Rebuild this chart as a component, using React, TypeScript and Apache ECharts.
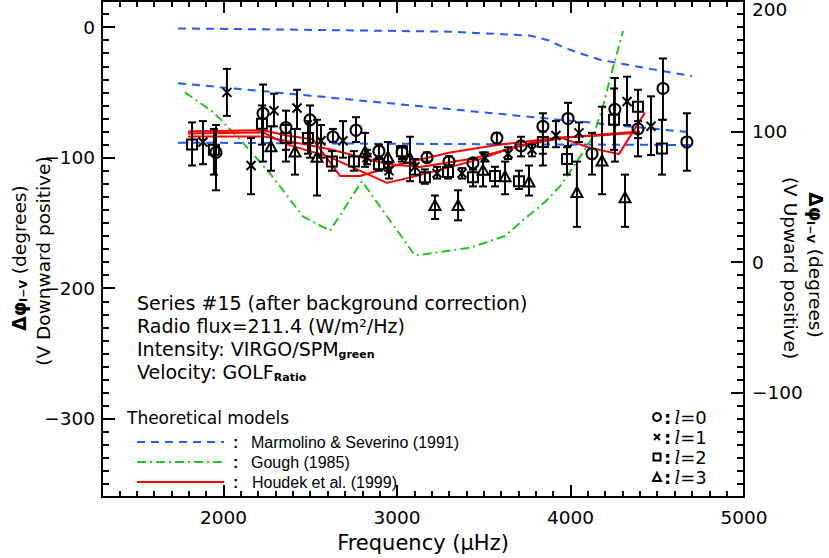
import React, { useEffect, useRef } from 'react';
import * as echarts from 'echarts';

// Tick labels
const xMajorTicks = [2000, 3000, 4000, 5000];
const leftTicks = [0, -100, -200, -300];
const rightTicks = [200, 100, 0, -100];

// Observed phase differences: [frequency (µHz), phase (deg), upper error end, lower error end]
const l0Points = [
  [1957, -96, -75, -125], [2228, -66, -44, -103], [2360, -77, -64, -103], [2499, -71, -60, -100],
  [2631, -84, -78, -88], [2764, -79, -69, -88], [2896, -95, -90, -100], [3029, -96, -92, -103],
  [3173, -100, -96, -103], [3300, -103, -99, -106], [3438, -104, -101, -109], [3576, -85, -81, -89],
  [3715, -91, -84, -99], [3841, -76, -66, -106], [3986, -70, -58, -91], [4124, -97, -81, -113],
  [4256, -63, -39, -103], [4389, -78, -72, -85], [4533, -47, -24, -71], [4671, -88, -66, -110],
];
const l1Points = [
  [1882, -88, -72, -105], [2020, -50, -32, -68], [2159, -106, -85, -128], [2291, -64, -51, -76],
  [2424, -62, -48, -78], [2562, -87, -75, -100], [2689, -87, -72, -100], [2827, -100, -94, -105],
  [2954, -110, -104, -116], [3104, -107, -101, -113], [3231, -112, -107, -116], [3375, -112, -108, -116],
  [3507, -100, -96, -103], [3640, -97, -92, -101], [3778, -94, -90, -99], [3916, -83, -72, -92],
  [4049, -81, -73, -88], [4326, -57, -38, -75], [4464, -76, -53, -98],
];
const l2Points = [
  [1819, -90, -73, -106], [1945, -94, -78, -113], [2222, -74, -60, -90], [2360, -85, -75, -94],
  [2487, -85, -72, -97], [2625, -103, -95, -110], [2752, -103, -95, -110], [2896, -105, -100, -110],
  [3029, -95, -91, -101], [3161, -115, -109, -120], [3294, -111, -106, -116], [3438, -115, -109, -122],
  [3565, -114, -107, -122], [3703, -118, -110, -124], [3841, -88, -80, -97], [3980, -101, -92, -113],
  [4251, -71, -47, -94], [4389, -61, -48, -99], [4527, -93, -71, -113],
];
const l3Points = [
  [2274, -92, -76, -110], [2412, -96, -78, -113], [2539, -100, -71, -129], [2816, -96, -81, -107],
  [2948, -100, -88, -110], [3075, -101, -84, -118], [3219, -137, -129, -147], [3352, -137, -125, -148],
  [3496, -110, -96, -122], [3623, -115, -103, -128], [3761, -119, -106, -129], [4037, -127, -103, -153],
  [4182, -103, -61, -128], [4314, -131, -113, -153],
];

// Theoretical models
const marmolinoTop = [[1738, -1], [2441, -2], [3305, -3.5], [3767, -6.5], [3870, -10], [3968, -16], [4055, -20], [4170, -25], [4458, -32], [4700, -37.5]];
const marmolinoMid = [[1738, -43], [2500, -52.5], [3300, -62.8], [4000, -71.7], [4700, -80.7]];
const marmolinoLow = [[1738, -88.5], [3200, -89.5], [4700, -90.3]];
const gough = [[1778, -50], [1940, -65], [2095, -86], [2268, -112], [2458, -145], [2614, -156], [2798, -118], [3104, -175], [3421, -169], [3622, -160], [3726, -148], [3853, -134], [3939, -122], [4037, -103], [4130, -84], [4187, -61], [4245, -31], [4303, -3]];
const houdek1 = [[1796, -80], [2228, -79], [2366, -83], [2516, -86], [2672, -114], [2787, -114], [3017, -105], [3306, -96], [3594, -90], [3939, -84.5], [4170, -83], [4400, -80.7]];
const houdek2 = [[1796, -81.4], [2228, -80.7], [2366, -89.8], [2614, -99.6], [2942, -119.3], [3092, -114.7], [3478, -101.1], [3669, -92], [3853, -86], [3939, -84.5], [4101, -92], [4279, -97.3], [4429, -65.5]];
const houdek3 = [[1796, -83.7], [2228, -83.7], [2614, -93.6], [2942, -104.9], [3133, -107.2], [3421, -101.1], [3709, -91.3], [3939, -85.2], [4170, -82.2], [4400, -80]];

const FONT = 'DejaVu Sans';
const HELV = 'Liberation Sans';
const BLUE = '#1f5bff';
const GREEN = '#1fc81f';
const RED = '#ff0000';

const minus = (v: number) => String(v).replace('-', '\u2212');

function errorBarSeries(name: string, data: number[][], kind: string) {
  return {
    type: 'custom',
    name,
    xAxisIndex: 0,
    yAxisIndex: 0,
    z: 5,
    data,
    renderItem: (params: any, api: any) => {
      const p = api.coord([api.value(0), api.value(1)]);
      const hi = api.coord([api.value(0), api.value(2)]);
      const lo = api.coord([api.value(0), api.value(3)]);
      const st = { stroke: '#000', lineWidth: 2, fill: 'none' };
      const cap = 4;
      const x = p[0];
      const y = p[1];
      const children: any[] = [
        { type: 'line', shape: { x1: x, y1: hi[1], x2: x, y2: lo[1] }, style: st },
        { type: 'line', shape: { x1: x - cap, y1: hi[1], x2: x + cap, y2: hi[1] }, style: st },
        { type: 'line', shape: { x1: x - cap, y1: lo[1], x2: x + cap, y2: lo[1] }, style: st },
      ];
      if (kind === 'circle') {
        children.push({ type: 'circle', shape: { cx: x, cy: y, r: 5.5 }, style: { stroke: '#000', lineWidth: 2, fill: 'none' } });
      } else if (kind === 'cross') {
        children.push({ type: 'line', shape: { x1: x - 4.5, y1: y - 4.5, x2: x + 4.5, y2: y + 4.5 }, style: st });
        children.push({ type: 'line', shape: { x1: x - 4.5, y1: y + 4.5, x2: x + 4.5, y2: y - 4.5 }, style: st });
      } else if (kind === 'square') {
        children.push({ type: 'rect', shape: { x: x - 5, y: y - 5, width: 10, height: 10 }, style: { stroke: '#000', lineWidth: 2, fill: 'none' } });
      } else {
        children.push({ type: 'polygon', shape: { points: [[x, y - 6], [x - 5.5, y + 4], [x + 5.5, y + 4]] }, style: { stroke: '#000', lineWidth: 2, fill: 'none' } });
      }
      return { type: 'group', children };
    },
  };
}

function modelLine(name: string, data: number[][], color: string, type: any) {
  return {
    type: 'line',
    name,
    xAxisIndex: 0,
    yAxisIndex: 0,
    data,
    showSymbol: false,
    symbol: 'none',
    silent: true,
    z: 4,
    lineStyle: { color, width: 2, type },
  };
}

const axisBase = {
  type: 'value',
  splitLine: { show: false },
};

const titleRich = {
  b: { fontSize: 18.5, fontWeight: 'bold', fontFamily: FONT, fill: '#000' },
  s: { fontSize: 11, fontWeight: 'bold', fontFamily: FONT, fill: '#000', padding: [9, 0, 0, 0] },
  n: { fontSize: 18.5, fontFamily: FONT, fill: '#000' },
};

const legendRich = {
  c: { fontSize: 18, lineHeight: 18, fontFamily: FONT, fill: '#000', fontWeight: 'bold' },
  i: { fontSize: 18, lineHeight: 18, fontFamily: 'DejaVu Serif', fontStyle: 'italic', fill: '#000' },
  n: { fontSize: 18, lineHeight: 18, fontFamily: FONT, fill: '#000' },
};

export default function App() {
  const ref = useRef<HTMLDivElement>(null);
  useEffect(() => {
    const chart = echarts.init(ref.current!, null, { renderer: 'svg' });
    const lineSt = { color: '#000', width: 2 };
    const labelSt = { color: '#000', fontSize: 18.5, fontFamily: FONT };
    const option: any = {
      animation: false,
      backgroundColor: '#fff',
      grid: { left: 102, right: 85, top: 1, bottom: 56, containLabel: false },
      xAxis: [
        {
          ...axisBase, position: 'bottom', min: 1300, max: 5000,
          axisLine: { show: true, onZero: false, lineStyle: lineSt },
          axisTick: { show: true, inside: true, length: 12, customValues: xMajorTicks, lineStyle: lineSt },
          axisLabel: { ...labelSt, customValues: xMajorTicks, margin: 11, formatter: (v: number) => String(v) },
          name: 'Frequency (\u03bcHz)', nameLocation: 'middle', nameGap: 31,
          nameTextStyle: { color: '#000', fontSize: 21, fontFamily: FONT },
        },
        {
          ...axisBase, position: 'bottom', min: 1300, max: 5000, interval: 100,
          axisLine: { show: false, onZero: false },
          axisTick: { show: true, inside: true, length: 6, lineStyle: lineSt },
          axisLabel: { show: false },
        },
        {
          ...axisBase, position: 'top', min: 1300, max: 5000,
          axisLine: { show: true, onZero: false, lineStyle: lineSt },
          axisTick: { show: true, inside: true, length: 12, customValues: xMajorTicks, lineStyle: lineSt },
          axisLabel: { show: false },
        },
        {
          ...axisBase, position: 'top', min: 1300, max: 5000, interval: 100,
          axisLine: { show: false, onZero: false },
          axisTick: { show: true, inside: true, length: 6, lineStyle: lineSt },
          axisLabel: { show: false },
        },
      ],
      yAxis: [
        {
          ...axisBase, position: 'left', min: -360, max: 20,
          axisLine: { show: true, onZero: false, lineStyle: lineSt },
          axisTick: { show: true, inside: true, length: 13, customValues: leftTicks, lineStyle: lineSt },
          axisLabel: { ...labelSt, customValues: leftTicks, margin: 7, formatter: (v: number) => minus(v) },
        },
        {
          ...axisBase, position: 'left', min: -360, max: 20, interval: 10,
          axisLine: { show: false, onZero: false },
          axisTick: { show: true, inside: true, length: 7, lineStyle: lineSt },
          axisLabel: { show: false },
        },
        {
          ...axisBase, position: 'right', min: -180, max: 200,
          axisLine: { show: true, onZero: false, lineStyle: lineSt },
          axisTick: { show: true, inside: true, length: 13, customValues: rightTicks, lineStyle: lineSt },
          axisLabel: {
            ...labelSt, customValues: rightTicks.slice(1), margin: 8,
            formatter: (v: number) => minus(v),
          },
        },
        {
          ...axisBase, position: 'right', min: -180, max: 200, interval: 10,
          axisLine: { show: false, onZero: false },
          axisTick: { show: true, inside: true, length: 7, lineStyle: lineSt },
          axisLabel: { show: false },
        },
      ],
      series: [
        modelLine('Marmolino & Severino (1991)', marmolinoTop, BLUE, [8, 6]),
        modelLine('Marmolino & Severino (1991) b', marmolinoMid, BLUE, [8, 6]),
        modelLine('Marmolino & Severino (1991) c', marmolinoLow, BLUE, [8, 6]),
        modelLine('Gough (1985)', gough, GREEN, [9, 4, 2, 4]),
        errorBarSeries('l=0', l0Points, 'circle'),
        errorBarSeries('l=1', l1Points, 'cross'),
        errorBarSeries('l=2', l2Points, 'square'),
        errorBarSeries('l=3', l3Points, 'triangle'),
        modelLine('Houdek et al. (1999)', houdek1, RED, 'solid'),
        modelLine('Houdek et al. (1999) b', houdek2, RED, 'solid'),
        modelLine('Houdek et al. (1999) c', houdek3, RED, 'solid'),
      ],
      graphic: [
        // top label of the right axis (kept inside the page)
        { type: 'text', x: 752, y: 1, style: { text: String(rightTicks[0]), verticalAlign: 'top', lineHeight: 17, fontSize: 18.5, fontFamily: FONT, fill: '#000' } },
        // Left axis title
        {
          type: 'text', x: 19, y: 258, rotation: Math.PI / 2,
          style: { text: '{b|\u0394\u03c6}{s|I\u2212V}{n| (degrees)}', align: 'center', verticalAlign: 'middle', rich: titleRich },
        },
        {
          type: 'text', x: 43, y: 261, rotation: Math.PI / 2,
          style: { text: '(V Downward positive)', align: 'center', verticalAlign: 'middle', fontSize: 18.5, fontFamily: FONT, fill: '#000' },
        },
        // Right axis title
        {
          type: 'text', x: 815, y: 265, rotation: -Math.PI / 2,
          style: { text: '{b|\u0394\u03c6}{s|I\u2212V}{n| (degrees)}', align: 'center', verticalAlign: 'middle', rich: titleRich },
        },
        {
          type: 'text', x: 790, y: 268, rotation: -Math.PI / 2,
          style: { text: '(V Upward positive)', align: 'center', verticalAlign: 'middle', fontSize: 18.5, fontFamily: FONT, fill: '#000' },
        },
        // Annotation block
        { type: 'text', x: 137, y: 303, style: { text: 'Series #15 (after background correction)', verticalAlign: 'middle', fontSize: 19, fontFamily: FONT, fill: '#000' } },
        { type: 'text', x: 137, y: 326, style: { text: 'Radio flux=211.4 (W/m\u00b2/Hz)', verticalAlign: 'middle', fontSize: 19, fontFamily: FONT, fill: '#000' } },
        {
          type: 'text', x: 137, y: 349,
          style: {
            text: '{n|Intensity: VIRGO/SPM}{s|green}', verticalAlign: 'middle',
            rich: {
              n: { fontSize: 19, fontFamily: FONT, fill: '#000' },
              s: { fontSize: 11, fontWeight: 'bold', fontFamily: FONT, fill: '#000', padding: [10, 0, 0, 0] },
            },
          },
        },
        {
          type: 'text', x: 137, y: 372,
          style: {
            text: '{n|Velocity: GOLF}{s|Ratio}', verticalAlign: 'middle',
            rich: {
              n: { fontSize: 19, fontFamily: FONT, fill: '#000' },
              s: { fontSize: 11, fontWeight: 'bold', fontFamily: FONT, fill: '#000', padding: [10, 0, 0, 0] },
            },
          },
        },
        // Theoretical models legend
        { type: 'text', x: 127, y: 418, style: { text: 'Theoretical models', verticalAlign: 'middle', fontSize: 17, fontFamily: FONT, fill: '#000' } },
        { type: 'line', shape: { x1: 137, y1: 442, x2: 224, y2: 442 }, style: { stroke: BLUE, lineWidth: 2, lineDash: [8, 6] } },
        { type: 'line', shape: { x1: 137, y1: 462, x2: 224, y2: 462 }, style: { stroke: GREEN, lineWidth: 2, lineDash: [9, 4, 2, 4] } },
        { type: 'line', shape: { x1: 137, y1: 482, x2: 224, y2: 482 }, style: { stroke: RED, lineWidth: 2 } },
        { type: 'text', x: 233, y: 442, style: { text: ':', verticalAlign: 'middle', fontSize: 16, fontFamily: HELV, fontWeight: 'bold', fill: '#000' } },
        { type: 'text', x: 233, y: 462, style: { text: ':', verticalAlign: 'middle', fontSize: 16, fontFamily: HELV, fontWeight: 'bold', fill: '#000' } },
        { type: 'text', x: 233, y: 482, style: { text: ':', verticalAlign: 'middle', fontSize: 16, fontFamily: HELV, fontWeight: 'bold', fill: '#000' } },
        { type: 'text', x: 251, y: 442, style: { text: 'Marmolino & Severino (1991)', verticalAlign: 'middle', fontSize: 16, fontFamily: HELV, fill: '#000' } },
        { type: 'text', x: 251, y: 462, style: { text: 'Gough (1985)', verticalAlign: 'middle', fontSize: 16, fontFamily: HELV, fill: '#000' } },
        { type: 'text', x: 252, y: 482, style: { text: 'Houdek et al. (1999)', verticalAlign: 'middle', fontSize: 16, fontFamily: HELV, fill: '#000' } },
        // Degree legend
        { type: 'circle', shape: { cx: 657, cy: 417, r: 4 }, style: { stroke: '#000', lineWidth: 2, fill: 'none' } },
        { type: 'line', shape: { x1: 654, y1: 434, x2: 660, y2: 440 }, style: { stroke: '#000', lineWidth: 2 } },
        { type: 'line', shape: { x1: 654, y1: 440, x2: 660, y2: 434 }, style: { stroke: '#000', lineWidth: 2 } },
        { type: 'rect', shape: { x: 653.5, y: 453.5, width: 7, height: 7 }, style: { stroke: '#000', lineWidth: 2, fill: 'none' } },
        { type: 'polygon', shape: { points: [[657, 473], [653, 481], [661, 481]] }, style: { stroke: '#000', lineWidth: 2, fill: 'none' } },
        ...['0', '1', '2', '3'].map((d, i) => ({
          type: 'text', x: 664, y: 417 + i * 20.3,
          style: { text: `{c|:} {i|l}{n|=${d}}`, verticalAlign: 'middle', rich: legendRich },
        })),
      ],
    };
    chart.setOption(option);
    return () => chart.dispose();
  }, []);
  return <div ref={ref} style={{ position: 'fixed', left: 0, top: 0, width: 829, height: 558 }} />;
}
